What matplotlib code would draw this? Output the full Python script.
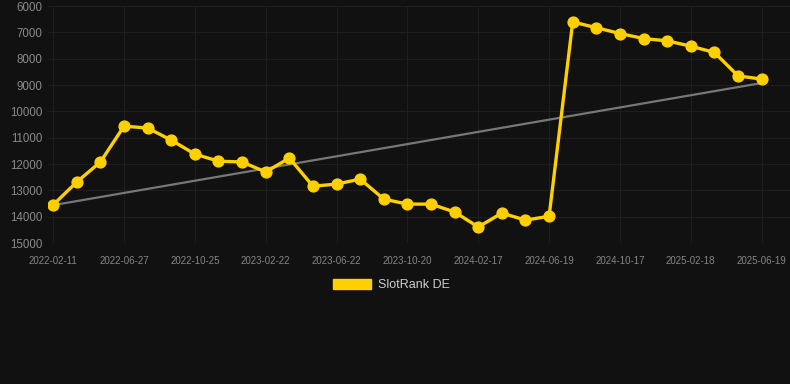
import matplotlib.pyplot as plt
from matplotlib.patches import Patch
import numpy as np

# SlotRank DE rank over time (lower is better, axis inverted)
ranks = [13550, 12680, 11920, 10560, 10630, 11090, 11620, 11890, 11920, 12300,
         11770, 12840, 12760, 12570, 13330, 13520, 13520, 13820, 14390, 13860,
         14130, 13980, 6600, 6820, 7040, 7230, 7320, 7520, 7760, 8650, 8770]

tick_labels = ["2022-02-11", "2022-06-27", "2022-10-25", "2023-02-22", "2023-06-22",
               "2023-10-20", "2024-02-17", "2024-06-19", "2024-10-17", "2025-02-18",
               "2025-06-19"]

# trend line end points
trend_start = 13560
trend_end = 8920

y_ticks = [6000, 7000, 8000, 9000, 10000, 11000, 12000, 13000, 14000, 15000]

bg = "#111111"
gold = "#FFD000"

plt.rcParams['font.family'] = ['Liberation Sans', 'DejaVu Sans']

fig = plt.figure(figsize=(7.9, 3.84), dpi=100, facecolor=bg)
ax = fig.add_axes([0.061, 0.367, 0.939, 0.617], facecolor=bg)

x = np.arange(len(ranks))
ax.plot([x[0], x[-1]], [trend_start, trend_end], color="#777777", lw=1.6, zorder=2)
ax.plot(x, ranks, color=gold, lw=2.4, marker="o", markersize=7.8,
        markerfacecolor=gold, markeredgecolor=gold, zorder=3)

ax.set_ylim(15000, 6000)
ax.set_xlim(-0.21, 31.2)
ax.set_yticks(y_ticks)
ax.set_xticks(x[::3])
ax.set_xticklabels(tick_labels)

ax.grid(True, color="#1f1f1f", lw=0.7)
ax.set_axisbelow(True)
for s in ax.spines.values():
    s.set_visible(False)
ax.tick_params(axis="y", colors="#8a8a8a", labelsize=8.3, length=0, pad=4)
ax.tick_params(axis="x", colors="#858585", labelsize=7, length=0, pad=9)

fig.legend(handles=[Patch(facecolor=gold, edgecolor=gold)], labels=["SlotRank DE"],
           loc="center", bbox_to_anchor=(0.495, 0.258), frameon=False,
           fontsize=9, labelcolor="#cccccc", handlelength=3.1, handleheight=0.9,
           handletextpad=0.5)

fig.savefig("out.png", dpi=100, facecolor=bg)
